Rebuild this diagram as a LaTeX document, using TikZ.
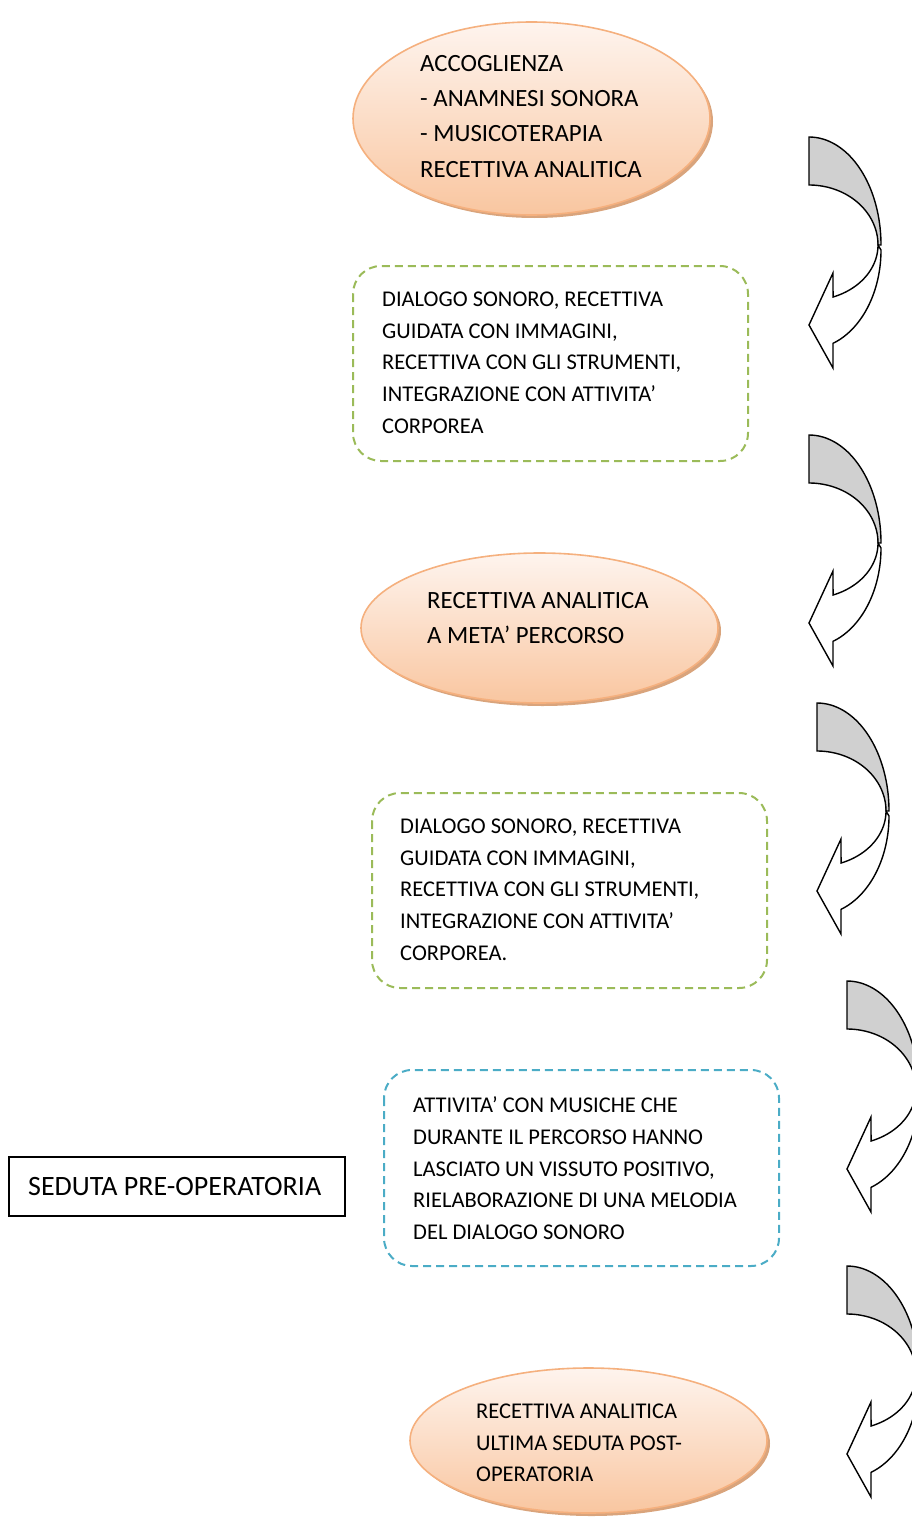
\documentclass[tikz,border=0pt]{standalone}
\usepackage{fontspec}
\setmainfont{Carlito}
\usetikzlibrary{shapes.geometric}
\definecolor{ellborder}{HTML}{F5B07E}
\definecolor{elltop}{HTML}{FEF4EE}
\definecolor{ellbot}{HTML}{F9C6A0}
\definecolor{ellshadow}{HTML}{D9A47C}
\definecolor{dgreen}{HTML}{9BBB59}
\definecolor{dblue}{HTML}{4BACC6}
\definecolor{arrgray}{HTML}{D0D0D0}
\tikzset{
  ovalbox/.style={ellipse, draw=ellborder, line width=1.6pt, top color=elltop, bottom color=ellbot, inner sep=0pt},
  ovalshadow/.style={ellipse, fill=ellshadow, draw=none, inner sep=0pt},
  dashbox/.style={rounded corners=28pt, line width=2pt, dash pattern=on 8pt off 5pt},
  bigtext/.style={anchor=north west, inner sep=0pt, align=left, font=\fontsize{24.8}{35.3}\selectfont},
  smalltext/.style={anchor=north west, inner sep=0pt, align=left, font=\fontsize{22.5}{31.7}\selectfont},
  arrline/.style={line width=1.4pt, draw=black, line join=miter}
}
\newcommand\curvarrowpic[2]{%
  \begin{scope}[shift={(#1,#2)}]
    \filldraw[arrline, fill=arrgray] (0,0) -- plot[domain=-90:0, samples=40] ({72*cos(\x)},{108+108*sin(\x)}) -- (69,108) -- plot[domain=0:-90, samples=40] ({69*cos(\x)},{108+60*sin(\x)}) -- cycle;
    \filldraw[arrline, fill=white] (69,108) -- plot[domain=0:69.6, samples=40] ({69*cos(\x)},{108+55.5*sin(\x)}) -- (24,136) -- (0,188) -- (24,231) -- (24,206) -- plot[domain=70.5:0, samples=40] ({72*cos(\x)},{113+99*sin(\x)}) -- cycle;
  \end{scope}}
\begin{document}
\begin{tikzpicture}[x=1pt, y=-1pt]
\useasboundingbox (0,0) rectangle (911,1517);
% ellipse 1
\node[ovalshadow, minimum width=357pt, minimum height=193pt] (e1s) at (534.5,121.5) {};
\node[ovalbox, minimum width=357pt, minimum height=193pt] (e1) at (531.5,118.5) {};
\node[bigtext] (t1) at (420,55) {ACCOGLIENZA\\- ANAMNESI SONORA\\- MUSICOTERAPIA\\RECETTIVA ANALITICA};
% box 1
\draw[dashbox, draw=dgreen] (353,266) rectangle (748,461);
\node[smalltext] (t2) at (382,291.7) {DIALOGO SONORO, RECETTIVA\\GUIDATA CON IMMAGINI,\\RECETTIVA CON GLI STRUMENTI,\\INTEGRAZIONE CON ATTIVITA’\\CORPOREA};
% ellipse 2
\node[ovalshadow, minimum width=357pt, minimum height=150pt] (e2s) at (542.5,631) {};
\node[ovalbox, minimum width=357pt, minimum height=150pt] (e2) at (539.5,628) {};
\node[bigtext] (t3) at (427,592) {RECETTIVA ANALITICA\\A META’ PERCORSO};
% box 2
\draw[dashbox, draw=dgreen] (372,793) rectangle (767,988);
\node[smalltext] (t4) at (400,818.7) {DIALOGO SONORO, RECETTIVA\\GUIDATA CON IMMAGINI,\\RECETTIVA CON GLI STRUMENTI,\\INTEGRAZIONE CON ATTIVITA’\\CORPOREA.};
% box 3
\draw[dashbox, draw=dblue] (384,1070) rectangle (779,1266);
\node[smalltext] (t5) at (413,1096.7) {ATTIVITA’ CON MUSICHE CHE\\DURANTE IL PERCORSO HANNO\\LASCIATO UN VISSUTO POSITIVO,\\RIELABORAZIONE DI UNA MELODIA\\DEL DIALOGO SONORO};
% rectangle
\node[draw=black, line width=1.2pt, minimum width=336pt, minimum height=59pt, inner sep=0pt] (r) at (177,1186.5) {};
\node[anchor=west, inner sep=0pt, font=\fontsize{28}{34}\selectfont] (t6) at (28,1186.5) {SEDUTA PRE-OPERATORIA};
% ellipse 3
\node[ovalshadow, minimum width=357pt, minimum height=145pt] (e3s) at (591.5,1443.5) {};
\node[ovalbox, minimum width=357pt, minimum height=145pt] (e3) at (588.5,1440.5) {};
\node[smalltext] (t7) at (476,1403.7) {RECETTIVA ANALITICA\\ULTIMA SEDUTA POST-\\OPERATORIA};
% curved arrows
\curvarrowpic{809}{137}
\curvarrowpic{809}{435}
\curvarrowpic{817}{703}
\curvarrowpic{847}{981}
\curvarrowpic{847}{1266}
\end{tikzpicture}
\end{document}
